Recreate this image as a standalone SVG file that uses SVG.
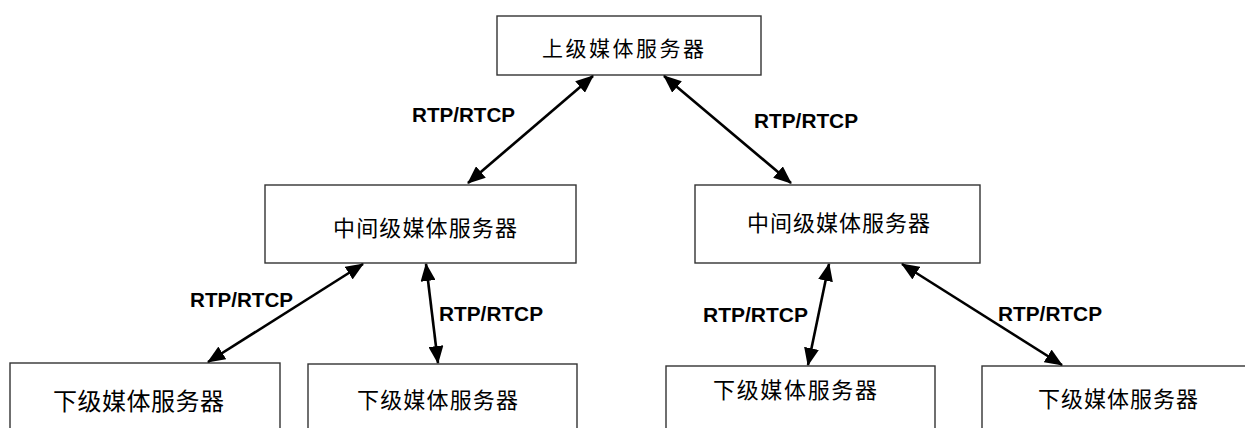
<svg xmlns="http://www.w3.org/2000/svg" width="1245" height="428" viewBox="0 0 1245 428">
<style>
.box{fill:#fff;stroke:#333;stroke-width:1.4}
.t{font-family:"Liberation Sans","Noto Sans CJK SC",sans-serif;fill:#000}
.lbl{font-family:"Liberation Sans",Arial,sans-serif;font-weight:bold;font-size:20px;fill:#000}
.c{stroke:#000;stroke-width:2.6;fill:none;marker-start:url(#ah);marker-end:url(#ah)}
</style>
<defs>
<marker id="ah" viewBox="0 0 18 15" refX="17" refY="7.5" markerWidth="18" markerHeight="15" markerUnits="userSpaceOnUse" orient="auto-start-reverse">
<path d="M0,0 L18,7.5 L0,15 z" fill="#000"/>
</marker>
</defs>
<rect width="1245" height="428" fill="#fff"/>
<g id="top">
<rect class="box" x="497" y="16" width="264" height="59"/>
<text class="t" x="542" y="56" font-size="21" textLength="162" lengthAdjust="spacing">上级媒体服务器</text>
</g>
<g id="midL">
<rect class="box" x="265" y="185" width="311" height="78"/>
<text class="t" x="333" y="236" font-size="22" textLength="184" lengthAdjust="spacing">中间级媒体服务器</text>
</g>
<g id="midR">
<rect class="box" x="695" y="185" width="285" height="78"/>
<text class="t" x="747" y="231" font-size="22" textLength="183" lengthAdjust="spacing">中间级媒体服务器</text>
</g>
<g id="bot1">
<rect class="box" x="10" y="363" width="270" height="80"/>
<text class="t" x="53" y="410" font-size="24" textLength="171" lengthAdjust="spacing">下级媒体服务器</text>
</g>
<g id="bot2">
<rect class="box" x="308" y="364" width="269" height="80"/>
<text class="t" x="357" y="408" font-size="22" textLength="161" lengthAdjust="spacing">下级媒体服务器</text>
</g>
<g id="bot3">
<rect class="box" x="666" y="366" width="269" height="80"/>
<text class="t" x="713" y="398" font-size="22" textLength="164" lengthAdjust="spacing">下级媒体服务器</text>
</g>
<g id="bot4">
<rect class="box" x="982" y="366" width="280" height="80"/>
<text class="t" x="1038" y="407" font-size="22" textLength="160" lengthAdjust="spacing">下级媒体服务器</text>
</g>
<g id="connectors">
<line class="c" x1="593" y1="76" x2="468" y2="183"/>
<line class="c" x1="664" y1="76" x2="791" y2="183"/>
<line class="c" x1="363" y1="264" x2="208" y2="362"/>
<line class="c" x1="426" y1="264" x2="438" y2="363"/>
<line class="c" x1="829" y1="264" x2="808" y2="365"/>
<line class="c" x1="902" y1="264" x2="1062" y2="365"/>
<text class="lbl" x="412" y="122" textLength="103" lengthAdjust="spacingAndGlyphs">RTP/RTCP</text>
<text class="lbl" x="754" y="128" textLength="104" lengthAdjust="spacingAndGlyphs">RTP/RTCP</text>
<text class="lbl" x="190" y="307" textLength="103" lengthAdjust="spacingAndGlyphs">RTP/RTCP</text>
<text class="lbl" x="439" y="321" textLength="104" lengthAdjust="spacingAndGlyphs">RTP/RTCP</text>
<text class="lbl" x="703" y="322" textLength="105" lengthAdjust="spacingAndGlyphs">RTP/RTCP</text>
<text class="lbl" x="998" y="321" textLength="104" lengthAdjust="spacingAndGlyphs">RTP/RTCP</text>
</g>
</svg>
